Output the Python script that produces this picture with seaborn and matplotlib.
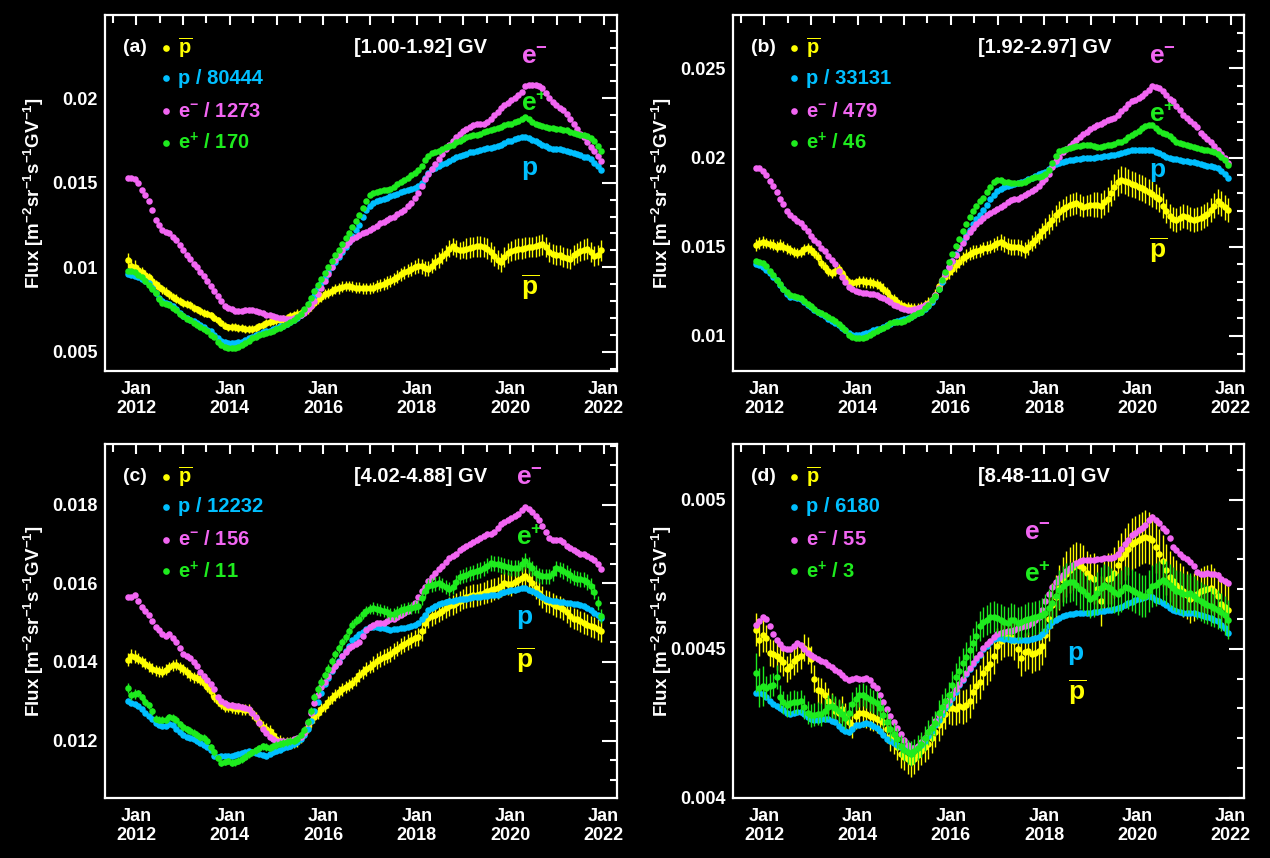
import numpy as np
import pandas as pd
import matplotlib
matplotlib.use("Agg")
import matplotlib.pyplot as plt
import matplotlib.dates as mdates
from matplotlib.ticker import MultipleLocator, FuncFormatter
import seaborn as sns

# ---------------- data ----------------
START_DATE = "2011-10-27"     # first Bartels-rotation point
PERIOD_DAYS = 27
N_POINTS = 138
ERR_YEAR0 = 2011              # first year of the yearly relative-error lists

# (a) [1.00-1.92] GV, units 1e-4
a_pbar = [104, 101, 100, 98.5, 97, 95.5, 94, 92, 90, 88.5,
          87, 85.5, 84, 82.5, 81.5, 80, 79, 78.5, 77.5, 76,
          75, 74, 73, 72.5, 71.5, 70, 68.5, 67, 65.5, 64.5,
          64.5, 64.5, 64, 64, 63.5, 63.5, 63.5, 64, 65, 66,
          67, 67.5, 68, 68.5, 69, 69.5, 70, 71, 71.5, 72.5,
          73, 74, 75, 77, 79, 81, 82.5, 84, 85, 86,
          87, 87.5, 88.5, 89, 89, 88.5, 88, 88, 87.5, 87.5,
          87.5, 88, 89, 89.5, 90, 91, 92, 93, 94.5, 96,
          97, 98, 99, 100, 101, 100.5, 99.5, 99, 101, 103,
          104.5, 106.5, 108.5, 111, 112.5, 111, 110, 110.5, 111, 111.5,
          112, 112.5, 112.5, 112, 111, 109, 106.5, 104.5, 103, 106,
          108.5, 109.5, 110.5, 111, 111, 111.5, 112, 112, 112.5, 113,
          113.5, 112, 109, 108, 107.5, 107, 106, 105.5, 105, 107,
          108.5, 109.5, 110.5, 111, 109, 106.5, 107.5, 110]
a_p = [96, 95.5, 95, 94, 93, 92, 90.5, 88, 85, 82,
       80, 79, 78, 77, 75, 73, 71, 70, 69, 68,
       67, 66, 64.5, 63, 62, 60, 58, 56.5, 55.5, 55,
       55, 55, 55.5, 56, 57, 58, 59, 60, 60.5, 61.5,
       62, 62.5, 63.5, 64, 65, 65.5, 66.5, 67.5, 68.5, 70,
       71.5, 73.5, 76, 79.5, 83, 87.5, 90.5, 93.5, 97, 100,
       103, 106, 109, 112, 115, 118.5, 122, 125, 130, 134,
       136.5, 138, 139.5, 140, 140.5, 141, 142, 142.5, 143.5, 144.5,
       145, 145.5, 146.5, 147, 148, 150, 153, 156, 158, 159,
       160, 161, 162, 163, 164, 165, 166, 166.5, 167, 168,
       168.5, 169, 169.5, 170, 170.5, 170.5, 171, 172, 172.5, 173.5,
       174.5, 175, 176, 176.5, 177, 177, 176.5, 175.5, 174.5, 173.5,
       172.5, 171.5, 170.5, 170, 170, 170, 169.5, 169, 168.5, 167.5,
       167, 166.5, 165.5, 165, 164, 162, 160, 157.5]
a_em = [153, 153, 152, 150, 146, 143, 139, 134, 128, 125,
        122, 121, 120, 118, 116, 113, 110, 107, 105, 102,
        100, 97, 95, 92, 89, 86, 83, 80, 77, 76,
        75, 74, 74, 74, 74.5, 74.5, 74.5, 74, 73.5, 73,
        72, 71.5, 71, 70.5, 70, 70, 69.5, 69.5, 70, 70.5,
        71.5, 73, 75, 77, 80, 84, 88, 92, 96, 100,
        104, 107, 110, 113, 115, 117, 118, 119, 120, 121,
        122, 123, 124.5, 126, 127, 128, 129, 130, 131.5, 133,
        134, 136, 138, 141, 144, 148, 152, 155, 158, 161,
        164, 167, 170, 172.5, 175, 177, 179, 180.5, 182, 183,
        184, 184.5, 185, 185, 186, 188, 190, 192, 194, 196,
        197, 199, 200, 202, 204, 207, 208, 208, 208, 207,
        206, 203, 200, 198, 196, 194.5, 193, 191, 188, 185,
        182, 179, 177, 174, 171, 169, 166, 163]
a_ep = [98, 97.5, 97, 95.5, 94, 92, 89.5, 87, 84.5, 81.5,
        79, 78, 77.5, 76, 74.5, 72.5, 71, 69.5, 68.5, 67,
        66, 64.5, 63.5, 62, 60, 58.5, 56, 54, 53, 52.5,
        52.5, 52.5, 53, 54, 55, 56.5, 58, 59, 60, 60.5,
        61, 61.5, 62.5, 63.5, 64, 65, 66.5, 67.5, 68.5, 70.5,
        72.5, 75.5, 78.5, 82, 86, 89.5, 93, 96.5, 100, 103.5,
        107, 110.5, 114, 117.5, 120.5, 124, 127.5, 131, 135, 139,
        142.5, 144, 144.5, 145, 145.5, 146, 146.5, 147.5, 149, 150.5,
        151.5, 153, 154.5, 156, 157.5, 160, 163.5, 166, 167.5, 168.5,
        169, 170, 171, 171.5, 172.5, 174, 175, 176, 177, 177.5,
        178, 178.5, 179, 180, 180.5, 181, 182, 182.5, 183, 184,
        184.5, 185, 186, 186.5, 187.5, 189, 187.5, 186, 185, 184,
        183.5, 183, 182.5, 182.5, 182, 182, 181.5, 181, 180, 179.5,
        179, 178.5, 178, 177.5, 176.5, 175, 172, 169]

# (b) [1.92-2.97] GV, units 1e-4
b_pbar = [151, 152, 152.5, 152, 151.5, 151, 150, 151, 150, 149,
          148, 147, 146.5, 147, 148.5, 149, 148, 146.5, 144, 141,
          138.5, 136.5, 135, 136.5, 137.5, 135, 132.5, 130, 129.5, 130,
          130.5, 130.5, 130, 130, 129.5, 129, 128, 126.5, 124.5, 122,
          120.5, 119, 117.5, 116.5, 116, 115.5, 115.3, 115.3, 116, 117,
          118.5, 120, 123, 128, 131, 133, 135.5, 137.5, 139.5, 141.5,
          143.5, 145, 146, 147, 147.5, 148, 149, 149.5, 150, 151,
          152, 152.5, 151.5, 150.5, 150, 150, 150, 149, 148, 150,
          152, 154, 156, 158.5, 160.5, 162.5, 165, 167.5, 169.5, 171,
          172.5, 173.5, 174, 174.5, 173.5, 172.5, 173, 173.5, 173.5, 173.5,
          173, 175, 176.5, 180, 183.5, 186, 187.5, 187, 186, 185,
          184.5, 183.5, 183, 182, 180.5, 179.5, 178, 176.5, 173, 170,
          167, 165.5, 165, 166, 167, 166.5, 165.5, 165, 165.5, 166,
          167, 168.5, 170.5, 173, 175.5, 174, 172, 170.5]
b_p = [140, 139.5, 138.5, 137, 135, 133, 131, 128.5, 126, 123.5,
       122, 121.5, 121, 120.5, 119, 117.5, 116, 114.5, 113.5, 112,
       111, 109.5, 108.5, 107, 106, 104.5, 103, 101.5, 100.5, 100.5,
       100.5, 101, 101.5, 102, 103, 103.5, 104, 105, 106, 106.5,
       107.5, 108.5, 109, 109.5, 110, 110.5, 111.5, 112.5, 113.5, 115,
       116.5, 119, 122, 126, 130, 134.5, 138.5, 142, 146, 149.5,
       153, 156.5, 159.5, 162.5, 165.5, 168, 170.5, 173.5, 176.5, 179,
       181, 182.5, 183.5, 184, 184.5, 185, 185.5, 186, 187, 188,
       188.5, 189.5, 190.5, 191.5, 192, 193.5, 195.5, 196.5, 197, 197.5,
       198, 198.5, 198.5, 199, 199, 199.5, 199.5, 200, 200, 200.5,
       200.5, 201, 201, 201.5, 201.5, 202, 202.5, 203, 203.5, 204,
       204, 204.5, 204.5, 204.5, 204.5, 204, 203, 202.5, 201.5, 200.5,
       199.5, 199, 199, 198.5, 198, 198, 197.5, 197.5, 197, 196.5,
       196, 195.5, 195, 194.5, 194, 192.5, 190.5, 188.5]
b_em = [194, 194, 192.5, 190, 187, 184, 180.5, 177, 174, 170,
        168, 166, 164.5, 163.5, 161, 158.5, 156, 154, 152, 149.5,
        147.5, 145, 142.5, 140, 136.5, 133, 130, 127.5, 126, 125,
        124.5, 124.2, 124, 123.5, 123.2, 123, 122, 121, 120.3, 119,
        117.5, 116.5, 115.5, 114.8, 114.4, 114.5, 115, 115.4, 116, 117,
        118, 120, 123, 127, 131, 134.5, 138.5, 142, 145.5, 149,
        152, 155.5, 158, 160.5, 162.5, 164.5, 166, 167.5, 169, 170,
        171, 172, 173.5, 175, 176, 176.5, 177, 178, 179, 180,
        181, 182.5, 184, 186, 188, 191, 194.5, 198, 200.5, 203,
        205, 206.5, 208, 210, 211.5, 213, 214.5, 216, 217, 218,
        219, 220, 221, 221.5, 222, 224, 226, 228, 230, 231.5,
        232.5, 233.5, 234.5, 236.5, 238, 240, 239.5, 239, 237.5, 235,
        233, 231.5, 229, 226.5, 224, 222, 220.5, 219, 217, 214,
        212, 210.5, 208.5, 206.5, 204, 202, 199.5, 197]
b_ep = [142, 141.5, 141, 139, 136.5, 134, 131.5, 129, 126.5, 124.5,
        123, 122.5, 122, 121, 119.5, 118, 116.5, 115, 113.5, 112.5,
        111.5, 110.5, 109.5, 108, 106.5, 105, 103, 100.5, 99.5, 98.5,
        98.5, 99, 99.5, 100.5, 101.5, 102.5, 103.5, 104.5, 105.5, 107,
        107.5, 107.5, 107.5, 108.5, 109.5, 110.5, 111.5, 112.5, 113.5, 115.5,
        117.5, 120, 122.5, 126.5, 131, 136, 141.5, 146, 150.5, 154.5,
        158.5, 162.5, 166.5, 170, 173, 175.5, 177.5, 180.5, 183.5, 186,
        187.5, 187.5, 186.5, 186, 185.5, 185.5, 185.5, 185.6, 186.5, 187.5,
        188.4, 188.8, 189.3, 189.8, 190.5, 193, 197, 201, 203.5, 204.5,
        205, 205.5, 206, 206.5, 206.5, 207, 207, 207, 206.5, 206,
        206, 206.5, 207, 207, 207.5, 208.5, 209, 210, 211.5, 212.5,
        213.7, 215, 216.5, 217.5, 218.3, 218, 216.5, 215, 214, 213,
        212, 210.5, 209, 208, 207.5, 207, 206.5, 206, 205.5, 205,
        204.5, 204, 203.5, 203, 202, 200.5, 198.5, 196]

# (c) [4.02-4.88] GV, units 1e-4
c_pbar = [140.6, 141.5, 141.3, 140.8, 140.2, 139.5, 138.9, 138.3, 137.9, 137.6,
          137.5, 138, 138.7, 139.1, 139.3, 138.6, 138.1, 137.4, 136.6, 136.1,
          135.9, 135.4, 134.7, 133.6, 132.5, 131.2, 130, 129.2, 128.6, 128.5,
          128.3, 128.2, 128.1, 128, 127.9, 127.9, 127, 125.8, 124.7, 123.5,
          123, 122.5, 121.5, 120.5, 120, 119.5, 119.4, 119.4, 119.5, 119.8,
          120.8, 122, 123.4, 125, 126, 127, 128, 128.8, 129.8, 130.8,
          131.6, 132.4, 133, 133.6, 134.1, 134.6, 135.6, 136.6, 137.4, 138.2,
          138.8, 139.5, 140.2, 140.7, 141.2, 141.6, 142, 142.7, 143.4, 144,
          144.6, 145, 145.5, 146, 146.4, 147.8, 149.8, 151.1, 151.6, 152,
          152.5, 153, 153.6, 154.1, 154.5, 155, 155.5, 156, 156.5, 156.8,
          156.9, 157, 157.3, 157.6, 157.9, 158.2, 158.5, 158.8, 159.4, 160,
          159.9, 159.7, 160.3, 160.9, 161.3, 161.8, 161, 160, 158.9, 157.4,
          156.4, 155.6, 155.2, 154.8, 154.3, 153.9, 153.5, 152.6, 151.6, 151,
          150.8, 150.3, 149.9, 149.5, 149.1, 148.8, 148.3, 147.8]
c_p = [130, 129.5, 129.2, 128.8, 128, 127, 126.3, 125.5, 124.5, 124,
       123.7, 123.8, 124.3, 124, 123, 122.3, 121.3, 121, 120.7, 120.3,
       119.8, 119.4, 119, 118.4, 117.7, 116, 115.7, 116, 116, 116,
       116.2, 116.4, 116.6, 116.9, 117.2, 117.3, 117.1, 116.9, 116.6, 116.3,
       116, 116.6, 117, 117.3, 117.6, 118, 118.3, 118.6, 119.1, 119.7,
       120.3, 121.5, 123, 125, 127.5, 129.8, 132, 134.3, 136, 137.7,
       139, 140.3, 141.6, 142.8, 144, 145.5, 146.3, 147, 147.7, 148.4,
       149, 149, 148.8, 148.6, 148.5, 148.4, 148.2, 148.3, 148.4, 148.5,
       148.6, 148.8, 149.1, 149.5, 149.9, 150.8, 152, 153.2, 153.8, 154.3,
       154.6, 154.9, 155.2, 155.4, 155.6, 155.8, 155.9, 156, 156.1, 156.3,
       156.4, 156.5, 156.6, 156.7, 156.8, 156.9, 157, 157.1, 157.4, 157.7,
       158, 158.2, 158.4, 158.6, 158.8, 158.7, 158.4, 158, 157.5, 157,
       156.5, 156, 155.7, 155.6, 155.4, 155.3, 155.2, 155, 154.9, 154.8,
       154.6, 154.4, 154.1, 153.7, 153.2, 152.4, 151.8, 151.2]
c_em = [156.5, 156.5, 157, 155.5, 154, 153, 152, 150.5, 149, 148,
        147, 146.5, 147, 146, 145, 143.5, 142, 141.5, 141, 140,
        139, 137.5, 136.5, 135.5, 134.5, 133, 131, 130, 129.5, 129,
        129, 128.8, 128.7, 128.5, 128.3, 128, 127, 126, 124.5, 123,
        122, 121, 120.5, 120, 120, 119.8, 120, 120, 120.3, 120.7,
        121, 122, 124.5, 127, 129.5, 131.5, 133.5, 135, 136.5, 138,
        139, 140, 141.5, 142.5, 143.5, 144, 144.5, 145, 146.5, 148,
        149, 149.5, 150, 150, 150, 150.5, 151, 151, 151.5, 152,
        152.5, 153, 154, 155, 156.5, 158, 159, 160.5, 161.5, 162.5,
        163.5, 164.5, 165.5, 166.5, 167, 167.5, 168.5, 169, 169.5, 170,
        170.5, 171, 171.5, 172, 172.5, 172.5, 173, 174, 175, 175.5,
        176, 176.5, 177, 177.5, 178.5, 179.5, 179, 178, 177, 176,
        174.5, 173, 171.5, 171, 171, 171, 170.5, 169.5, 169, 168.5,
        168, 167.5, 167.5, 167, 166.5, 166, 165, 163.5]
c_ep = [133.4, 131.5, 131.8, 132, 131, 129.8, 129, 127.5, 125.5, 125.3,
        125.3, 125.3, 126, 125.8, 125.3, 124.2, 123.4, 122.9, 122.5, 122,
        121.5, 120.8, 120.7, 120, 118.3, 117, 115.5, 114.3, 114.5, 114.8,
        114.4, 114.5, 114.9, 115.3, 115.9, 116.5, 117, 117.5, 118, 118.5,
        118.4, 118.2, 118.5, 118.9, 119.2, 119.4, 119.6, 119.8, 120, 120.4,
        121.5, 122.8, 124.8, 127.5, 131, 133, 135, 136.7, 138.3, 140.2,
        142, 143.5, 145, 146.3, 147.8, 149.5, 150.5, 151, 152.2, 153,
        153.5, 153.7, 153.5, 153.3, 153, 152.6, 152.2, 152.3, 152.8, 153.1,
        153.4, 153.7, 153.8, 154, 154.1, 156.3, 158, 159.2, 159.6, 159.9,
        160.1, 159.6, 159.1, 158.6, 159, 160.3, 161.5, 161.9, 162.2, 162.5,
        162.8, 163.1, 163.4, 163.8, 164.5, 165.1, 165, 164.9, 164.7, 164.4,
        164.1, 163.9, 163.9, 163.9, 164.8, 165.6, 164.7, 163.8, 162.6, 162,
        161.8, 161.8, 161.8, 162.5, 163.8, 163.5, 163.1, 162.6, 162, 161.4,
        161.2, 161, 160.9, 160.3, 159.3, 157.8, 155, 151.6]

# (d) [8.48-11.0] GV, units 1e-5
d_pbar = [456.4, 453.1, 454.5, 453.5, 448.7, 448.3, 447.5, 446.6, 445.4, 443.3,
          444.2, 445.8, 446.8, 447.6, 450.3, 449.5, 446.5, 440, 436.3, 436,
          434.5, 432.5, 431, 429.3, 428.6, 429.8, 427.5, 425.3, 424.5, 427.5,
          428.5, 428.6, 428.2, 427.5, 427, 426.6, 426, 425.4, 423, 420.5,
          419.3, 417.2, 414.7, 413.9, 412.9, 412.1, 412.9, 414.4, 415.9, 417,
          418.1, 420, 422, 424.3, 426.2, 428.3, 430, 430, 429.9, 430.8,
          430.5, 431, 432.5, 435.5, 437.5, 438.8, 442, 443.5, 445, 447.5,
          451, 452.6, 453.5, 454, 453.8, 452.6, 450, 447, 449, 449.4,
          448.3, 448.7, 449.2, 450.8, 454.5, 460, 464.5, 467.3, 470.5, 473.1,
          475, 476.4, 477.3, 478.1, 477.8, 477.2, 475.3, 474, 473.5, 470,
          466, 471, 473.4, 473.6, 475.5, 478, 480.3, 481.7, 483.5, 485.2,
          485.8, 486.4, 487, 487.6, 487, 486.4, 484, 481.6, 479.5, 476.5,
          474.2, 472.6, 471.4, 470.4, 469.2, 468, 466.7, 467.3, 468.5, 469.2,
          469.8, 470, 470.3, 469.2, 467.6, 465, 464, 463.1]
d_p = [435.3, 435.3, 435, 433.8, 432.5, 431.6, 430.8, 430.2, 429.6, 428.6,
       428.2, 428.5, 428.7, 428.7, 428.2, 427.3, 426.6, 426, 426.1, 426.4,
       426.4, 426.4, 425.9, 425.4, 424.2, 423.1, 422.5, 422, 423.2, 424.3,
       424.6, 424.9, 425.2, 424.8, 424, 423.5, 422.4, 421, 419.9, 419.1,
       418.4, 417.8, 417.2, 416.6, 416.4, 416.4, 416.6, 417, 417.8, 419.1,
       420.8, 422.6, 424.3, 426.1, 428, 430, 431.7, 433.5, 435.6, 437.7,
       439.7, 441.6, 443.3, 444.8, 446.3, 448, 449.8, 451, 452.2, 453.2,
       453.5, 453.7, 453.4, 453.2, 453.1, 453.1, 453.1, 453.1, 453.1, 453.1,
       453.4, 453.7, 454.1, 455, 455.9, 457.5, 459.1, 459.8, 460.4, 460.9,
       461.2, 461.5, 461.8, 461.9, 462, 462, 462, 462, 462.2, 462.4,
       462.5, 462.7, 462.9, 463.1, 463.4, 463.8, 464.1, 464.6, 465.2, 465.8,
       466.3, 466.7, 467, 467.3, 467.6, 467.2, 466.4, 465.9, 465.3, 464.6,
       463.8, 463, 462.5, 462.3, 462.1, 462, 462, 462, 461.7, 461.3,
       461, 460.6, 460.2, 459.8, 459.2, 458.1, 456.8, 455.3]
d_em = [457.8, 459.2, 460.5, 460, 457.5, 455, 453, 451.5, 450.3, 449.8,
        450, 451, 452, 451.3, 450, 448.6, 447.9, 447.2, 446.6, 446,
        445.4, 444.6, 443.8, 443, 442.1, 441.2, 440.3, 439.5, 439.8, 440.3,
        440, 439.8, 440.2, 439.5, 438, 437, 434.5, 432, 429.8, 427.5,
        425.5, 423.5, 421.5, 419.3, 417.8, 416.6, 416.6, 417.3, 418.7, 420.2,
        422, 423.7, 425.7, 427.8, 429.4, 431.1, 432.8, 434.7, 436.4, 438.2,
        440, 441.8, 443.7, 445.3, 446.8, 448.4, 450.2, 451.5, 452.5, 454,
        454.9, 455.4, 455.6, 455.8, 456, 456.4, 456.8, 457.2, 457.6, 458,
        458.7, 459.6, 460.6, 463, 466, 468.5, 470.7, 472.3, 473.6, 474.8,
        476, 477.2, 478.2, 478.8, 479.5, 479.8, 479.8, 479.8, 479.9, 480,
        480.2, 480.3, 480.3, 480.3, 480.8, 481.6, 483.3, 485, 486.5, 488,
        488.8, 489.7, 490.5, 491.3, 493, 494, 493.1, 492, 490.5, 489.5,
        487, 484, 483, 481.8, 480.8, 480, 479.2, 477.8, 475.8, 475,
        475.2, 475.3, 475.2, 475, 474.8, 473.5, 472.8, 472]
d_ep = [442, 437, 437.5, 437, 437.5, 438, 440.5, 434, 432, 431,
        431.8, 432.3, 432, 432.4, 430.5, 428.6, 427.8, 427.9, 428.2, 428.1,
        429.3, 430.5, 430.8, 430.2, 429.2, 428.1, 426.8, 428.4, 431.5, 433.3,
        434.4, 434.6, 433.9, 433.1, 432.4, 431.8, 430, 427.8, 425.6, 423,
        421.5, 419.8, 417.5, 416.2, 415.4, 414.8, 415.6, 416.8, 418, 420,
        422, 423.4, 425, 428.5, 430.5, 432.5, 434.6, 437.8, 440.5, 442.6,
        445.2, 447.4, 449.5, 451.9, 454.2, 457.5, 458.9, 459.5, 460.5, 460.8,
        460.2, 459.6, 458.8, 458.5, 459.8, 459.5, 458.5, 458.8, 459.5, 460,
        460.3, 460.6, 460.9, 461.4, 462, 463.5, 465.2, 467.6, 469.8, 471,
        472, 472.3, 472.5, 471.2, 470, 469.3, 468, 466.8, 467.5, 468.8,
        470.2, 471.2, 470.8, 470, 469, 468.3, 469.5, 470.8, 470.3, 469.7,
        468.9, 468.2, 467.8, 467.6, 469.2, 470.9, 471.5, 472.3, 473, 472.2,
        471.2, 470.2, 469.5, 469, 468.3, 468.4, 468.7, 467.7, 466.6, 465.9,
        465.3, 464.8, 464.2, 463.7, 463.1, 462.3, 461.2, 459.8]

# relative errors in percent, per calendar year 2011..2021
a_pbar_err = [4.0, 3.0, 3.0, 3.5, 3.5, 3.5, 4.0, 4.5, 5.5, 5.5, 5.5]
b_pbar_err = [2.2, 2.0, 2.0, 2.3, 2.5, 2.5, 3.0, 3.5, 4.0, 4.0, 4.0]
c_pbar_err = [1.2, 1.0, 1.0, 1.1, 1.2, 1.2, 1.4, 1.6, 1.8, 1.8, 1.8]
c_ep_err = [0.9, 0.7, 0.7, 0.8, 0.8, 0.8, 1.0, 1.1, 1.2, 1.2, 1.2]
d_pbar_err = [1.2, 1.0, 1.0, 1.1, 1.2, 1.3, 1.4, 1.6, 1.8, 1.8, 1.7]
d_ep_err = [1.5, 0.9, 0.9, 0.9, 1.0, 1.1, 1.2, 1.4, 1.5, 1.5, 1.4]

ranges = ["[1.00-1.92] GV", "[1.92-2.97] GV", "[4.02-4.88] GV", "[8.48-11.0] GV"]
p_div = ["80444", "33131", "12232", "6180"]
em_div = ["1273", "479", "156", "55"]
ep_div = ["170", "46", "11", "3"]

# ---------------- style ----------------
sns.set_style("dark", {"axes.facecolor": "black", "figure.facecolor": "black"})
plt.rcParams["font.family"] = ["Liberation Sans", "DejaVu Sans"]
plt.rcParams["font.weight"] = "bold"
plt.rcParams["mathtext.fontset"] = "custom"
plt.rcParams["mathtext.rm"] = "Liberation Sans:bold"
plt.rcParams["mathtext.bf"] = "Liberation Sans:bold"
plt.rcParams["mathtext.it"] = "Liberation Sans:bold"
plt.rcParams["mathtext.default"] = "bf"

C_PBAR = "#FFFF00"
C_P = "#00BFFF"
C_EM = "#F266F2"
C_EP = "#1EEB1E"

dates = pd.date_range(START_DATE, periods=N_POINTS, freq=f"{PERIOD_DAYS}D")
years = dates.year.values

W, H = 1270, 858
fig = plt.figure(figsize=(W / 100, H / 100), dpi=100, facecolor="black")

panels = [
    dict(rect=(105, 15, 617, 371), unit=1e-4, data=(a_pbar, a_p, a_em, a_ep),
         errs=(a_pbar_err, None), ylim=(0.00386, 0.02493), ymaj=0.005, ymin=0.001,
         tag="(a)", tags=dict(em=(0.812, 0.882), ep=(0.812, 0.75), p=(0.812, 0.57), pbar=(0.812, 0.236)),
         rx=0.486),
    dict(rect=(733, 15, 1244, 371), unit=1e-4, data=(b_pbar, b_p, b_em, b_ep),
         errs=(b_pbar_err, None), ylim=(0.00802, 0.0280), ymaj=0.005, ymin=0.001,
         tag="(b)", tags=dict(em=(0.814, 0.882), ep=(0.814, 0.72), p=(0.814, 0.565), pbar=(0.814, 0.34)),
         rx=0.479),
    dict(rect=(105, 444, 617, 798), unit=1e-4, data=(c_pbar, c_p, c_em, c_ep),
         errs=(c_pbar_err, c_ep_err), ylim=(0.01054, 0.01954), ymaj=0.002, ymin=0.0005,
         tag="(c)", tags=dict(em=(0.803, 0.904), ep=(0.803, 0.735), p=(0.803, 0.51), pbar=(0.803, 0.39)),
         rx=0.486),
    dict(rect=(733, 444, 1244, 798), unit=1e-5, data=(d_pbar, d_p, d_em, d_ep),
         errs=(d_pbar_err, d_ep_err), ylim=(0.004, 0.005186), ymaj=0.0005, ymin=0.0001,
         tag="(d)", tags=dict(em=(0.569, 0.75), ep=(0.569, 0.63), p=(0.655, 0.41), pbar=(0.655, 0.30)),
         rx=0.479),
]

def xfmt(x, pos):
    d = mdates.num2date(x)
    return f"Jan\n{d.year}" if d.year % 2 == 0 else ""

PBAR_TXT = r"$\overline{p}$"
EM_TXT = r"$e^{-}$"
EP_TXT = r"$e^{+}$"

for k, pn in enumerate(panels):
    x0, y0, x1, y1 = pn["rect"]
    ax = fig.add_axes([x0 / W, 1 - y1 / H, (x1 - x0) / W, (y1 - y0) / H])
    ax.set_facecolor("black")
    u = pn["unit"]
    pbar, p, em, ep = [np.asarray(v, float) * u for v in pn["data"]]
    pbar_err, ep_err = pn["errs"]

    # antiproton error bars + points
    e1 = pbar * np.asarray(pbar_err)[years - ERR_YEAR0] / 100.0
    ax.errorbar(dates, pbar, yerr=e1, fmt="none", ecolor=C_PBAR, elinewidth=1.0, capsize=0, zorder=2)
    sns.scatterplot(x=dates, y=pbar, ax=ax, color=C_PBAR, s=22, linewidth=0, zorder=3, legend=False)
    sns.scatterplot(x=dates, y=p, ax=ax, color=C_P, s=22, linewidth=0, zorder=4, legend=False)
    sns.scatterplot(x=dates, y=em, ax=ax, color=C_EM, s=22, linewidth=0, zorder=5, legend=False)
    if ep_err is not None:
        e2 = ep * np.asarray(ep_err)[years - ERR_YEAR0] / 100.0
        ax.errorbar(dates, ep, yerr=e2, fmt="none", ecolor=C_EP, elinewidth=1.0, capsize=0, zorder=6)
    sns.scatterplot(x=dates, y=ep, ax=ax, color=C_EP, s=22, linewidth=0, zorder=7, legend=False)

    ax.set_xlim(pd.Timestamp("2011-05-01"), pd.Timestamp("2022-04-15"))
    ax.set_ylim(*pn["ylim"])
    ax.xaxis.set_major_locator(mdates.YearLocator(1))
    ax.xaxis.set_minor_locator(mdates.MonthLocator(bymonth=7))
    ax.xaxis.set_major_formatter(FuncFormatter(xfmt))
    ax.yaxis.set_major_locator(MultipleLocator(pn["ymaj"]))
    ax.yaxis.set_minor_locator(MultipleLocator(pn["ymin"]))
    ax.yaxis.set_major_formatter(FuncFormatter(lambda v, pos: f"{v:g}"))
    ax.set_xlabel("")
    ax.set_ylabel(r"Flux [m$^{-2}$sr$^{-1}$s$^{-1}$GV$^{-1}$]", color="white", fontsize=13.5, fontweight="bold")
    ax.yaxis.set_label_coords(-0.115, 0.5)

    ax.tick_params(which="both", direction="in", colors="white", top=True, right=True, width=1.5)
    ax.tick_params(axis="y", which="major", length=11, labelsize=13, pad=5)
    ax.tick_params(axis="y", which="minor", length=5)
    ax.tick_params(axis="x", which="major", length=7, labelsize=13, pad=7)
    ax.tick_params(axis="x", which="minor", length=6)
    for lab in ax.get_xticklabels() + ax.get_yticklabels():
        lab.set_fontweight("bold")
        lab.set_linespacing(1.15)
    for s in ax.spines.values():
        s.set_color("white")
        s.set_linewidth(1.6)
    ax.grid(False)

    # in-panel legend
    tf = ax.transAxes
    ax.text(0.035, 0.908, pn["tag"], transform=tf, color="white", fontsize=14, ha="left", va="center")
    ax.text(pn["rx"], 0.908, ranges[k], transform=tf, color="white", fontsize=14.5, ha="left", va="center")
    rows = [(C_PBAR, PBAR_TXT), (C_P, f"p / {p_div[k]}"),
            (C_EM, EM_TXT + f" / {em_div[k]}"), (C_EP, EP_TXT + f" / {ep_div[k]}")]
    for (c, t), yy in zip(rows, [0.908, 0.823, 0.729, 0.640]):
        ax.plot([0.120], [yy], "o", transform=tf, color=c, ms=4.8, mew=0, clip_on=False)
        ax.text(0.142, yy, t, transform=tf, color=c, fontsize=14.5, ha="left", va="center")

    # curve tags
    tg = pn["tags"]
    ax.text(*tg["em"], EM_TXT, transform=tf, color=C_EM, fontsize=19, ha="left", va="center")
    ax.text(*tg["ep"], EP_TXT, transform=tf, color=C_EP, fontsize=19, ha="left", va="center")
    ax.text(*tg["p"], "p", transform=tf, color=C_P, fontsize=19, ha="left", va="center")
    ax.text(*tg["pbar"], PBAR_TXT, transform=tf, color=C_PBAR, fontsize=19, ha="left", va="center")

fig.savefig("out.png", dpi=100, facecolor="black")
